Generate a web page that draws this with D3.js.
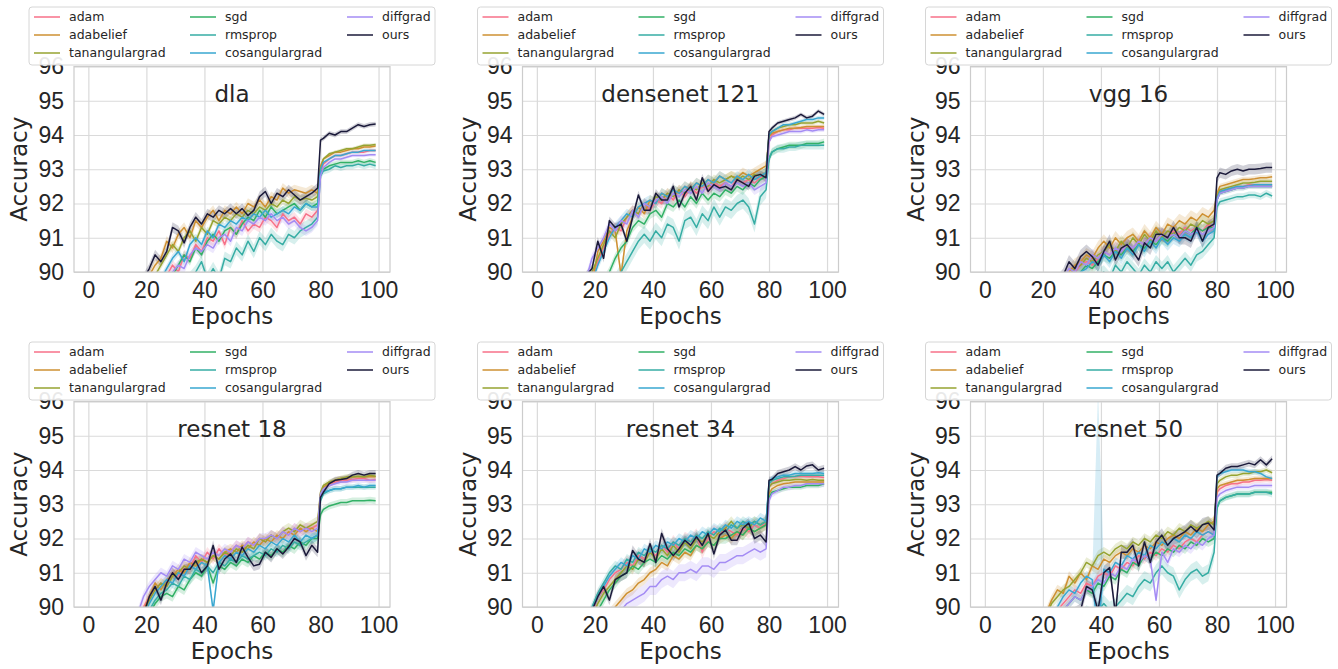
<!DOCTYPE html>
<html lang="en">
<head>
  <style>
    body { margin: 0; background: #fff; }
    svg { font-family: "DejaVu Sans", sans-serif; }
    .grid line { stroke: #dadada; stroke-width: 1.2; }
    .ticks text { fill: #262626; font-size: 23px; }
    .label { fill: #262626; font-size: 23px; }
    .legend text { fill: #262626; font-size: 12.5px; }
  </style>
  <script src="https://d3js.org/d3.v7.min.js"></script>
</head>
<body>
  <script>
    const epochs = [0, 5, 10, 15,
      17, 19, 21, 23, 25, 27, 29, 31, 33, 35, 37, 39,
      41, 43, 45, 47, 49, 51, 53, 55, 57, 59, 61, 63,
      65, 67, 69, 71, 73, 75, 77, 79,
      80, 81, 83, 85, 87, 89, 91, 93, 95, 97, 99];

    const optimizers = ["adam", "adabelief", "tanangulargrad", "sgd", "rmsprop", "cosangulargrad", "diffgrad", "ours"];
    const colors = ["#f77189", "#ce9032", "#96a331", "#32b166", "#36ada4", "#39a7d0", "#a48cf4", "#1b1a3a"];
    const titles = ["dla", "densenet 121", "vgg 16", "resnet 18", "resnet 34", "resnet 50"];
    const xTicks = [0, 20, 40, 60, 80, 100];
    const yTicks = [90, 91, 92, 93, 94, 95, 96];

    // mean accuracy per optimizer (order as in optimizers)
    const dla = [
      [50,76,82.5,86.3, 87.6,88.3,88.8,89.3,89.7,89.9,90.2,90.0,90.5,90.4,90.8,90.6, 91.0,90.9,91.2,90.8,91.3,91.1,91.5,91.2,91.4,91.3,91.6,91.5, 91.3,91.7,91.5,91.6,91.4,91.7,91.6,91.8, 92.9,93.15,93.3,93.4,93.4,93.45,93.5,93.5,93.5,93.55,93.55],
      [55,78,84,87.5, 88.8,89.5,89.9,90.2,90.4,90.9,90.7,91.1,91.3,91.0,91.5,91.3, 91.6,91.8,91.5,91.8,91.7,91.9,91.7,92.0,91.9,92.1,91.9,92.2, 92.1,92.45,92.3,92.4,92.35,92.3,92.4,92.3, 93.1,93.3,93.4,93.5,93.5,93.55,93.6,93.6,93.65,93.65,93.68],
      [52,77,83.5,87, 88.4,89.1,89.5,89.9,90.2,90.5,90.8,90.6,91.0,91.2,90.9,91.3, 91.1,91.5,91.4,91.6,91.5,91.7,91.6,91.8,91.7,91.9,91.8,92.0, 91.9,92.1,92.0,92.2,92.1,92.15,92.1,92.2, 93.0,93.3,93.45,93.5,93.55,93.6,93.6,93.65,93.7,93.7,93.72],
      [50,75,82,86, 87.3,88.0,88.5,89.0,89.4,89.8,89.9,90.2,90.5,90.3,90.7,90.5, 90.9,91.1,90.9,91.2,91.3,91.1,91.4,91.6,91.5,91.8,91.6,91.9, 91.7,91.8,91.9,92.0,91.8,92.0,91.9,92.0, 92.9,93.0,93.1,93.15,93.2,93.2,93.2,93.25,93.2,93.25,93.2],
      [45,70,80,84, 85.5,86.5,87.3,87.9,88.3,88.8,89.2,89.4,89.7,89.8,90.0,90.3, 89.8,90.1,89.8,90.4,90.3,90.7,90.5,90.9,90.6,91.0,90.8,91.1, 90.9,90.8,91.1,91.0,91.2,91.3,91.4,91.6, 92.8,92.95,93.0,93.1,93.05,93.1,93.1,93.15,93.1,93.15,93.1],
      [50,76,83,86.5, 87.8,88.5,89.0,89.4,89.8,90.1,90.4,90.6,90.3,90.8,91.0,90.8, 91.2,91.0,91.4,91.3,91.5,91.4,91.6,91.5,91.7,91.6,91.8,91.6, 91.7,91.8,91.7,91.9,91.8,92.0,91.9,91.9, 93.0,93.2,93.3,93.4,93.4,93.45,93.5,93.5,93.55,93.55,93.55],
      [50,75,82,86, 87.4,88.1,88.6,89.1,89.5,89.8,90.0,90.2,90.1,90.5,90.7,90.6, 90.8,90.7,91.0,91.1,90.9,91.3,91.2,91.5,91.4,91.6,91.5,91.7, 91.5,91.6,91.4,91.5,91.3,91.2,91.3,91.5, 92.8,93.05,93.2,93.3,93.3,93.35,93.4,93.4,93.4,93.42,93.42],
      [60,80,85,88.5, 89.4,89.8,90.1,90.5,90.3,90.6,91.3,91.2,90.85,91.3,91.6,91.4, 91.7,91.6,91.8,91.7,91.85,91.7,91.85,91.65,91.8,92.2,92.35,92.0, 92.3,92.2,92.4,92.25,92.1,92.2,92.3,92.45, 93.85,93.9,94.05,94.0,94.1,94.1,94.2,94.3,94.25,94.3,94.32]
    ];
    const densenet121 = [
      [52,77,84.5,88.3, 89.4,89.9,90.3,90.7,91.1,91.3,91.2,91.6,91.8,91.7,92.0,91.8, 92.1,92.0,92.3,92.1,92.4,92.2,92.5,92.3,92.5,92.4,92.6,92.5, 92.6,92.5,92.7,92.6,92.7,92.6,92.75,92.8, 93.8,94.0,94.1,94.15,94.15,94.2,94.2,94.2,94.2,94.22,94.2],
      [55,78,85,88.5, 89.5,89.6,90.6,90.9,91.3,91.2,89.9,91.2,91.6,91.9,91.7,92.1, 92.0,92.3,92.2,92.4,92.3,92.5,92.4,92.6,92.5,92.7,92.6,92.8, 92.7,92.8,92.75,92.9,92.8,92.9,93.0,93.1, 93.95,94.05,94.1,94.15,94.2,94.2,94.22,94.25,94.25,94.25,94.25],
      [55,78,85,88.6, 89.6,90.0,90.4,90.8,91.2,91.0,91.4,91.6,91.8,91.7,92.0,91.9, 92.2,92.1,92.3,92.2,92.4,92.3,92.5,92.4,92.6,92.5,92.7,92.6, 92.7,92.8,92.7,92.8,92.7,92.85,92.8,92.9, 94.0,94.1,94.2,94.25,94.3,94.3,94.35,94.35,94.35,94.4,94.35],
      [50,76,83,87, 88.2,88.8,89.3,89.7,90.0,90.4,90.7,90.9,91.3,91.5,91.4,91.7, 91.8,91.6,92.0,91.9,92.1,91.9,92.2,92.0,92.3,92.1,92.3,92.2, 92.4,92.3,92.5,92.4,92.6,92.5,92.7,92.8, 93.3,93.5,93.6,93.65,93.7,93.7,93.7,93.75,93.75,93.75,93.8],
      [45,72,80,85, 86.5,87.5,88.2,88.8,89.3,89.7,90.0,90.3,90.6,90.9,91.1,90.9, 91.2,91.0,91.4,91.3,90.9,91.5,91.6,91.3,91.7,91.5,91.9,91.6, 91.9,91.8,92.0,92.1,91.9,91.4,92.2,92.4, 93.3,93.5,93.6,93.6,93.65,93.65,93.7,93.7,93.7,93.7,93.7],
      [52,77,84,88, 89.2,89.7,90.2,90.6,91.0,91.3,91.5,91.7,91.6,91.9,92.0,92.1, 92.0,92.3,92.2,92.4,92.3,92.5,92.4,92.6,92.5,92.7,92.6,92.8, 92.7,92.6,92.8,92.7,92.85,92.7,92.8,92.9, 94.0,94.1,94.2,94.3,94.3,94.35,94.4,94.45,94.45,94.5,94.5],
      [53,78,85,88.8, 89.8,90.4,90.7,91.0,91.4,91.2,91.5,91.4,91.8,91.6,92.0,91.9, 92.1,92.2,92.0,92.3,92.2,92.4,92.3,92.5,92.3,92.6,92.5,92.4, 92.6,92.5,92.6,92.5,92.6,92.4,92.5,92.6, 93.8,93.95,94.0,94.05,94.1,94.1,94.1,94.15,94.12,94.15,94.15],
      [58,80,86,89.2, 89.9,90.1,90.9,90.4,91.5,91.3,91.4,90.9,91.6,92.25,91.8,91.8, 92.3,92.1,92.1,92.5,91.9,92.3,92.5,92.1,92.75,92.35,92.55,92.45, 92.5,92.4,92.7,92.6,92.5,92.8,92.85,92.75, 94.1,94.2,94.35,94.4,94.45,94.5,94.6,94.5,94.55,94.7,94.6]
    ];
    const vgg16 = [
      [43,71,79,84.8, 86.2,87.2,88.0,88.6,89.1,89.5,89.8,90.0,90.2,90.3,90.2,90.4, 90.6,90.5,90.7,90.6,90.8,90.7,90.9,90.8,91.0,90.9,91.1,91.0, 91.2,91.1,91.3,91.2,91.3,91.2,91.4,91.3, 92.2,92.35,92.4,92.45,92.5,92.5,92.55,92.55,92.55,92.55,92.55],
      [45,72,80,85, 86.5,87.5,88.3,88.9,89.4,89.8,90.0,90.2,90.3,90.5,90.4,90.7, 90.9,90.7,91.0,90.8,91.0,91.1,90.9,91.2,91.0,91.3,91.1,91.4, 91.3,91.5,91.4,91.6,91.5,91.7,91.6,91.8, 92.3,92.5,92.55,92.6,92.65,92.7,92.7,92.72,92.75,92.75,92.78],
      [45,72,80,85, 86.3,87.3,88.1,88.7,89.2,89.6,89.9,90.1,90.2,90.4,90.3,90.5, 90.6,90.8,90.6,90.9,90.7,91.0,90.8,91.1,90.9,91.2,91.0,91.2, 91.1,91.3,91.2,91.4,91.3,91.5,91.4,91.5, 92.2,92.4,92.45,92.5,92.55,92.6,92.6,92.62,92.65,92.65,92.65],
      [42,70,79,84.5, 86,87,87.8,88.4,88.9,89.3,89.6,89.8,90.0,90.2,90.1,90.3, 90.5,90.4,90.6,90.5,90.7,90.6,90.8,90.7,90.9,90.8,91.0,90.9, 91.1,91.0,91.2,91.1,91.3,91.2,91.3,91.3, 92.1,92.3,92.35,92.4,92.45,92.45,92.5,92.5,92.5,92.5,92.5],
      [40,68,78,84, 85.5,86.5,87.3,87.9,88.4,88.8,89.1,89.3,89.5,89.7,89.6,89.9, 90.0,89.8,90.2,90.0,90.3,90.1,89.9,90.2,90.0,90.3,90.1,90.3, 90.0,90.2,90.4,90.2,90.5,90.6,90.8,91.0, 91.9,92.05,92.1,92.15,92.2,92.2,92.25,92.25,92.2,92.3,92.22],
      [42,70,79,84.5, 86,87,87.8,88.4,88.9,89.3,89.6,89.8,90.0,90.1,90.3,90.2, 90.5,90.3,90.6,90.4,90.7,90.5,90.8,90.6,90.9,90.7,91.0,90.8, 91.0,90.9,91.1,91.0,91.2,90.9,91.1,91.2, 92.15,92.35,92.4,92.45,92.5,92.5,92.52,92.55,92.55,92.55,92.55],
      [44,71,79.5,85, 86.5,87.5,88.3,88.9,89.4,89.8,90.1,90.0,90.3,90.2,90.5,90.4, 90.6,90.5,90.7,90.6,90.8,90.7,90.9,90.8,91.0,90.9,91.1,91.0, 91.1,91.0,91.2,91.1,91.2,91.1,91.2,91.3, 92.1,92.3,92.35,92.4,92.45,92.45,92.5,92.5,92.5,92.5,92.5],
      [50,75,82,86, 87.3,88.2,88.9,89.4,89.7,89.9,90.3,90.1,90.45,90.6,90.45,90.2, 90.6,90.9,90.35,90.7,90.8,90.6,90.35,90.85,90.7,91.1,91.1,91.0, 91.3,91.0,91.0,90.9,91.3,90.9,91.3,91.4, 92.75,92.9,92.85,92.95,93.0,92.95,93.0,93.0,93.02,93.05,93.05]
    ];
    const resnet18 = [
      [55,80,86,89, 89.6,90.0,90.3,90.5,90.7,90.6,91.0,90.9,91.2,91.1,91.5,91.3, 91.6,91.4,91.7,91.5,91.6,91.8,91.7,91.9,91.8,92.0,91.9,92.1, 92.0,92.2,92.1,92.3,92.2,92.3,92.3,92.4, 93.3,93.5,93.6,93.65,93.7,93.7,93.72,93.75,93.75,93.7,93.72],
      [55,80,86,88.9, 89.5,89.9,90.3,90.7,90.5,90.8,90.9,91.1,91.0,91.3,91.2,91.4, 91.3,91.5,91.4,91.6,91.7,91.6,91.8,91.7,91.9,91.8,92.0,91.9, 92.1,92.0,92.2,92.1,92.3,92.2,92.3,92.2, 93.3,93.5,93.6,93.7,93.75,93.75,93.8,93.8,93.8,93.8,93.8],
      [55,80,86,88.8, 89.4,89.8,90.2,90.5,90.7,90.6,90.9,91.0,91.2,91.1,91.3,91.4, 91.3,91.5,91.4,91.6,91.5,91.7,91.6,91.8,91.7,92.0,91.9,92.1, 92.0,92.2,92.3,92.2,92.4,92.3,92.4,92.5, 93.35,93.55,93.65,93.7,93.75,93.8,93.8,93.82,93.8,93.85,93.82],
      [50,77,84,88, 88.7,89.3,89.8,90.1,90.3,90.4,90.3,90.6,90.5,90.8,91.0,90.9, 91.2,90.7,91.2,91.1,91.3,91.2,91.4,91.3,91.5,91.4,91.6,91.5, 91.7,91.6,91.8,91.7,91.9,91.8,92.0,92.0, 92.7,92.85,92.95,93.0,93.05,93.05,93.1,93.1,93.1,93.12,93.1],
      [50,77,84.5,88.2, 88.9,89.5,89.9,90.2,90.4,90.5,90.7,90.6,90.9,90.8,91.1,91.0, 91.2,91.0,91.3,91.2,91.4,91.3,91.5,91.4,91.5,91.6,91.5,91.7, 91.6,91.8,91.7,91.9,91.8,91.9,92.0,92.1, 93.1,93.3,93.4,93.45,93.45,93.5,93.5,93.5,93.5,93.5,93.5],
      [52,78,85,88.5, 89.2,89.7,90.1,90.4,90.6,90.8,90.7,91.0,90.9,91.2,91.1,91.3, 91.2,89.9,91.3,91.5,91.4,91.6,91.5,91.7,91.6,91.8,91.7,91.9, 91.8,92.0,91.9,92.1,91.9,92.1,92.0,92.1, 93.2,93.35,93.4,93.45,93.45,93.5,93.5,93.55,93.5,93.55,93.55],
      [55,80,86,89.1, 89.8,90.3,90.6,90.8,91.0,90.9,91.2,91.1,91.4,91.3,91.6,91.5, 91.4,91.6,91.5,91.7,91.6,91.8,91.7,91.9,91.8,92.0,92.0,92.1, 92.0,92.2,92.1,92.3,92.2,92.3,92.2,92.3, 93.3,93.45,93.55,93.6,93.65,93.65,93.7,93.7,93.7,93.7,93.7],
      [55,80,86,88.8, 89.3,89.8,90.3,90.6,90.2,90.7,91.0,90.8,91.1,91.1,91.35,91.0, 91.2,91.8,91.1,91.4,91.55,91.3,91.75,91.45,91.2,91.25,91.6,91.45, 91.7,91.55,91.75,92.0,91.9,91.5,91.8,91.6, 93.2,93.35,93.6,93.7,93.72,93.75,93.85,93.9,93.85,93.9,93.9]
    ];
    const resnet34 = [
      [50,78,85,88.6, 89.3,89.8,90.3,90.5,90.8,91.0,91.1,91.3,91.2,91.5,91.4,91.6, 91.5,91.8,91.6,91.9,91.7,92.0,91.9,92.1,91.6,92.0,92.2,92.1, 92.3,92.2,92.1,92.3,92.2,92.4,92.3,92.5, 93.5,93.6,93.7,93.75,93.8,93.8,93.82,93.8,93.8,93.8,93.78],
      [45,75,83,87.5, 88.2,88.8,89.2,89.5,89.8,90.0,90.2,90.4,90.5,90.7,90.8,91.0, 91.1,91.3,91.2,91.5,91.4,91.6,91.5,91.8,91.7,91.9,91.8,92.0, 92.1,92.0,92.2,92.1,92.3,92.2,92.3,92.4, 93.3,93.45,93.55,93.6,93.62,93.65,93.65,93.65,93.65,93.65,93.65],
      [50,78,85,88.5, 89.2,89.7,90.1,90.4,90.6,90.8,91.0,91.2,91.1,91.4,91.3,91.6, 91.4,91.7,91.5,91.8,91.6,91.9,91.7,92.0,91.9,92.1,92.0,92.2, 92.3,92.5,92.3,92.4,92.3,92.5,92.4,92.5, 93.5,93.6,93.65,93.7,93.7,93.72,93.72,93.7,93.72,93.7,93.7],
      [50,77,84.5,88.2, 88.9,89.5,89.9,90.2,90.5,90.7,90.9,91.0,91.2,91.1,91.3,91.4, 91.3,91.5,91.4,91.6,91.5,91.7,91.6,91.8,91.7,91.9,91.8,92.0, 92.0,92.1,92.2,92.1,92.3,92.2,92.3,92.4, 93.2,93.35,93.4,93.45,93.5,93.5,93.5,93.55,93.55,93.55,93.6],
      [52,78,85,88.8, 89.6,90.0,90.4,90.7,91.0,91.2,91.1,91.4,91.3,91.6,91.5,91.7, 91.6,91.8,91.7,91.9,91.8,92.0,91.9,92.1,92.0,92.2,92.1,92.3, 92.2,92.4,92.3,92.5,92.4,92.5,92.4,92.5, 93.6,93.7,93.75,93.8,93.8,93.82,93.85,93.85,93.85,93.85,93.85],
      [52,78,85,88.7, 89.4,89.9,90.3,90.6,90.9,91.1,91.3,91.2,91.5,91.4,91.7,91.6, 91.8,91.7,91.9,91.8,92.0,91.9,92.1,92.0,92.2,92.1,92.3,92.2, 92.4,92.3,92.5,92.4,92.5,92.4,92.6,92.5, 93.65,93.75,93.8,93.85,93.85,93.9,93.9,93.9,93.9,93.92,93.9],
      [40,70,80,85, 86.5,87.5,88.3,88.9,89.3,89.6,89.9,90.1,90.2,90.3,90.4,90.6, 90.6,90.8,90.9,90.8,91.0,91.0,91.1,91.0,91.2,91.2,91.1,91.3, 91.3,91.4,91.5,91.5,91.6,91.7,91.6,91.7, 93.1,93.3,93.4,93.5,93.5,93.55,93.55,93.6,93.6,93.6,93.6],
      [55,80,86,89, 89.5,89.9,90.3,90.6,90.2,90.8,90.9,91.0,91.65,91.4,91.3,91.85, 91.3,92.15,91.7,91.5,91.7,91.95,91.8,92.05,91.8,92.15,91.55,92.1, 92.25,91.95,91.95,92.3,92.45,92.0,92.1,91.9, 93.7,93.72,93.9,93.95,94.0,94.1,94.0,94.12,94.15,94.0,94.05]
    ];
    const resnet50 = [
      [45,72,81,86, 87.5,88.4,89.1,89.6,89.9,90.1,90.3,90.5,90.4,90.7,90.6,90.9, 91.0,90.9,91.2,91.1,91.3,91.2,91.5,91.4,91.6,91.5,91.7,91.6, 91.8,91.7,91.9,92.0,91.9,92.1,92.2,92.1, 93.35,93.45,93.55,93.6,93.6,93.65,93.65,93.7,93.7,93.72,93.7],
      [50,75,83,87.5, 88.6,89.3,89.8,90.2,90.5,90.4,90.9,90.7,91.0,90.8,91.2,91.1, 91.4,91.3,91.5,91.6,91.5,91.7,91.6,91.8,91.7,91.9,91.8,92.0, 92.1,92.0,92.2,92.1,92.3,92.2,92.4,92.5, 93.45,93.55,93.6,93.65,93.7,93.7,93.72,93.75,93.75,93.75,93.75],
      [50,75,83,87.3, 88.5,89.2,89.7,90.1,90.3,90.5,90.6,90.8,91.0,91.3,91.2,91.5, 91.6,91.5,91.7,91.8,91.7,91.9,91.8,92.0,91.9,92.1,92.0,92.2, 92.1,92.3,92.2,92.4,92.3,92.4,92.5,92.4, 93.6,93.7,93.8,93.85,93.85,93.9,93.9,93.95,93.95,94.0,93.92],
      [42,70,80,85.5, 87,88,88.7,89.2,89.6,89.9,90.1,90.3,90.2,90.5,90.4,90.7, 90.6,90.9,90.8,91.1,91.0,91.3,91.2,91.5,91.4,91.6,91.5,91.7, 91.6,91.8,91.7,91.9,91.8,92.0,91.9,92.0, 92.9,93.1,93.2,93.25,93.3,93.3,93.3,93.35,93.35,93.35,93.35],
      [40,68,78,84, 85.5,86.5,87.4,88.0,88.5,88.9,89.2,89.4,89.6,89.8,89.7,89.9, 90.1,89.9,90.0,90.2,90.4,90.3,90.6,90.8,90.7,91.0,91.2,91.0, 90.9,90.5,90.8,91.0,91.1,90.9,91.0,91.6, 92.9,93.1,93.2,93.25,93.3,93.3,93.3,93.35,93.35,93.35,93.3],
      [45,72,81,86, 87.5,88.4,89.1,89.6,90.0,90.3,90.5,90.4,90.7,90.9,90.8,89.3, 91.1,91.0,91.3,91.2,91.5,91.4,91.6,91.5,91.8,91.7,91.9,91.8, 92.0,91.9,92.1,92.0,92.2,92.1,92.2,92.1, 93.8,93.9,93.95,94.0,94.0,94.0,93.95,93.95,93.9,93.8,93.75],
      [42,70,80,85.5, 87,88,88.7,89.2,89.6,89.9,90.1,90.3,90.2,90.5,90.6,90.8, 90.7,91.0,90.9,91.2,91.1,91.4,91.3,91.5,91.4,90.2,91.6,91.3, 91.7,91.6,91.8,91.7,91.9,91.8,92.0,92.1, 93.2,93.3,93.4,93.45,93.5,93.5,93.5,93.55,93.55,93.55,93.55],
      [40,70,80,85, 86.5,87.5,88.3,88.8,89.2,89.5,89.7,89.8,89.9,90.6,90.5,89.9, 91.0,91.15,89.8,91.6,91.6,91.8,91.2,91.9,91.3,91.9,92.1,91.8, 92.0,92.1,92.2,92.35,92.2,92.4,92.45,92.25, 93.85,93.9,94.05,94.1,94.1,94.15,94.2,94.15,94.3,94.15,94.33]
    ];

    // std of the runs, [before epoch 80, from epoch 80]
    const dlaSd = [[.15,.05],[.15,.05],[.12,.05],[.12,.08],[.2,.1],[.12,.05],[.15,.05],[.15,.07]];
    const densenet121Sd = [[.15,.06],[.15,.06],[.15,.06],[.15,.1],[.25,.12],[.15,.06],[.15,.06],[.12,.06]];
    const vgg16Sd = [[.18,.07],[.2,.08],[.18,.07],[.18,.07],[.2,.1],[.18,.07],[.18,.07],[.2,.15]];
    const resnet18Sd = [[.15,.08],[.15,.08],[.15,.08],[.15,.1],[.15,.08],[.15,.08],[.15,.08],[.15,.1]];
    const resnet34Sd = [[.2,.08],[.15,.08],[.15,.08],[.15,.08],[.15,.08],[.15,.08],[.25,.1],[.15,.1]];
    const resnet50Sd = [[.15,.08],[.15,.08],[.15,.08],[.15,.08],[.25,.1],[.15,.08],[.15,.08],[.2,.1]];
    // one run of cosangulargrad blew up around epoch 39 on resnet 50
    const sdSpikes = [{ panel: 5, series: 5, epoch: 39, sd: 7 }];

    const panels = [dla, densenet121, vgg16, resnet18, resnet34, resnet50];
    const spreads = [dlaSd, densenet121Sd, vgg16Sd, resnet18Sd, resnet34Sd, resnet50Sd];

    const svg = d3.select("body").append("svg")
      .attr("width", 1338)
      .attr("height", 669);

    const colLeft = [74, 522.5, 970.5];
    const rowTop = [66.5, 401.5];
    const W = 316, H = 205.5;

    panels.forEach((acc, p) => {
      const left = colLeft[p % 3], top = rowTop[Math.floor(p / 3)];
      const x = d3.scaleLinear().domain([-4.95, 103.95]).range([0, W]);
      const y = d3.scaleLinear().domain([90, 96]).range([H, 0]);
      const g = svg.append("g").attr("transform", `translate(${left},${top})`);

      g.append("rect").attr("width", W).attr("height", H).attr("fill", "#fff");

      g.append("g").attr("class", "grid")
        .attr("transform", `translate(0,${H})`)
        .call(d3.axisBottom(x).tickValues(xTicks).tickSize(-H).tickFormat(""))
        .call(a => a.select(".domain").remove());
      g.append("g").attr("class", "grid")
        .call(d3.axisLeft(y).tickValues(yTicks).tickSize(-W).tickFormat(""))
        .call(a => a.select(".domain").remove());

      g.append("clipPath").attr("id", `clip${p}`)
        .append("rect").attr("width", W).attr("height", H);
      const plot = g.append("g").attr("clip-path", `url(#clip${p})`);

      const rows = acc.map((vals, s) => epochs.map((e, k) => {
        let sd = e < 80 ? spreads[p][s][0] : spreads[p][s][1];
        sdSpikes.forEach(sp => { if (sp.panel === p && sp.series === s && sp.epoch === e) sd = sp.sd; });
        return { e, v: vals[k], sd };
      }));

      const area = d3.area()
        .x(d => x(d.e))
        .y0(d => y(d.v - d.sd))
        .y1(d => y(d.v + d.sd));
      const line = d3.line()
        .x(d => x(d.e))
        .y(d => y(d.v));

      rows.forEach((r, s) => {
        plot.append("path").datum(r)
          .attr("fill", colors[s])
          .attr("fill-opacity", 0.2)
          .attr("d", area);
      });
      rows.forEach((r, s) => {
        plot.append("path").datum(r)
          .attr("fill", "none")
          .attr("stroke", colors[s])
          .attr("stroke-width", 1.5)
          .attr("stroke-linejoin", "round")
          .attr("d", line);
      });

      g.append("rect").attr("width", W).attr("height", H)
        .attr("fill", "none").attr("stroke", "#cccccc").attr("stroke-width", 1.2);

      g.append("g").attr("class", "ticks")
        .attr("transform", `translate(0,${H})`)
        .call(d3.axisBottom(x).tickValues(xTicks).tickFormat(d3.format("d")).tickSize(0).tickPadding(10))
        .call(a => a.select(".domain").remove());
      g.append("g").attr("class", "ticks")
        .call(d3.axisLeft(y).tickValues(yTicks).tickFormat(d3.format("d")).tickSize(0).tickPadding(10))
        .call(a => a.select(".domain").remove());

      g.append("text").attr("class", "label")
        .attr("x", W / 2).attr("y", 35)
        .attr("text-anchor", "middle")
        .text(titles[p]);
      g.append("text").attr("class", "label")
        .attr("x", W / 2).attr("y", H + 52)
        .attr("text-anchor", "middle")
        .text("Epochs");
      g.append("text").attr("class", "label")
        .attr("transform", "rotate(-90)")
        .attr("x", -H / 2).attr("y", -47)
        .attr("text-anchor", "middle")
        .text("Accuracy");

      // legend sits above the axes, 3 columns filled top-down
      const lg = g.append("g").attr("class", "legend")
        .attr("transform", `translate(-45,-59.5)`);
      lg.append("rect")
        .attr("width", 406).attr("height", 58).attr("rx", 3)
        .attr("fill", "#fff").attr("fill-opacity", 0.9)
        .attr("stroke", "#d6d6d6");
      const colX = [5, 161, 318];
      optimizers.forEach((name, s) => {
        const cx = colX[Math.floor(s / 3)], cy = 10 + 18 * (s % 3);
        lg.append("line")
          .attr("x1", cx).attr("x2", cx + 26)
          .attr("y1", cy).attr("y2", cy)
          .attr("stroke", colors[s]).attr("stroke-width", 1.5);
        lg.append("text")
          .attr("x", cx + 35).attr("y", cy)
          .attr("dy", "0.35em")
          .text(name);
      });
    });
  </script>
</body>
</html>
